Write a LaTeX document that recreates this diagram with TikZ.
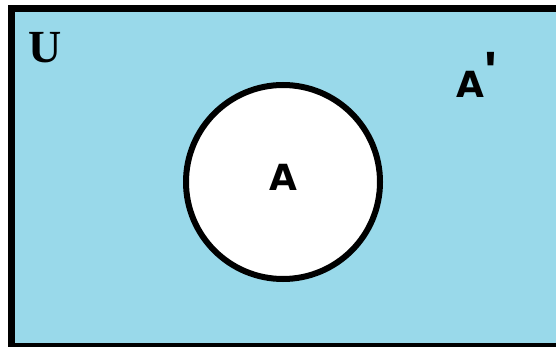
\documentclass[tikz,border=0pt]{standalone}
\usepackage{fontspec}
\usepackage{xcolor}
\usepackage{tikz}
\setmainfont{Liberation Serif}
\newfontfamily\labelfont{DejaVu Sans}
\newfontfamily\primefont{Liberation Sans}
\definecolor{PaleSky}{HTML}{99D9EA}

\begin{document}
\begin{tikzpicture}[x=1pt, y=-1pt,
        setlabel/.style={inner sep=0pt, font=\labelfont\bfseries\fontsize{36}{36}\selectfont}]
        \useasboundingbox (0,0) rectangle (556,347);
        \clip (0,0) rectangle (556,347);
        % universal set
        \draw[fill=PaleSky, line width=7pt] (11,9) rectangle (562,346);
        \node[inner sep=0pt, anchor=base west,
              font=\bfseries\fontsize{46}{46}\selectfont] (univ) at (28,63) {U};
        % the set A and its complement
        \node[circle, draw=black, fill=white, line width=6pt,
              minimum size=194pt, inner sep=0pt] (setA) at (283,182) {};
        \node[setlabel] (labA) at ([yshift=5pt]setA.center) {A};
        \node[setlabel, anchor=base west] (labAc) at (456,98)
              {A\raisebox{8pt}{\primefont\bfseries\fontsize{54}{54}\selectfont\char"27}};
      \end{tikzpicture}
\end{document}
